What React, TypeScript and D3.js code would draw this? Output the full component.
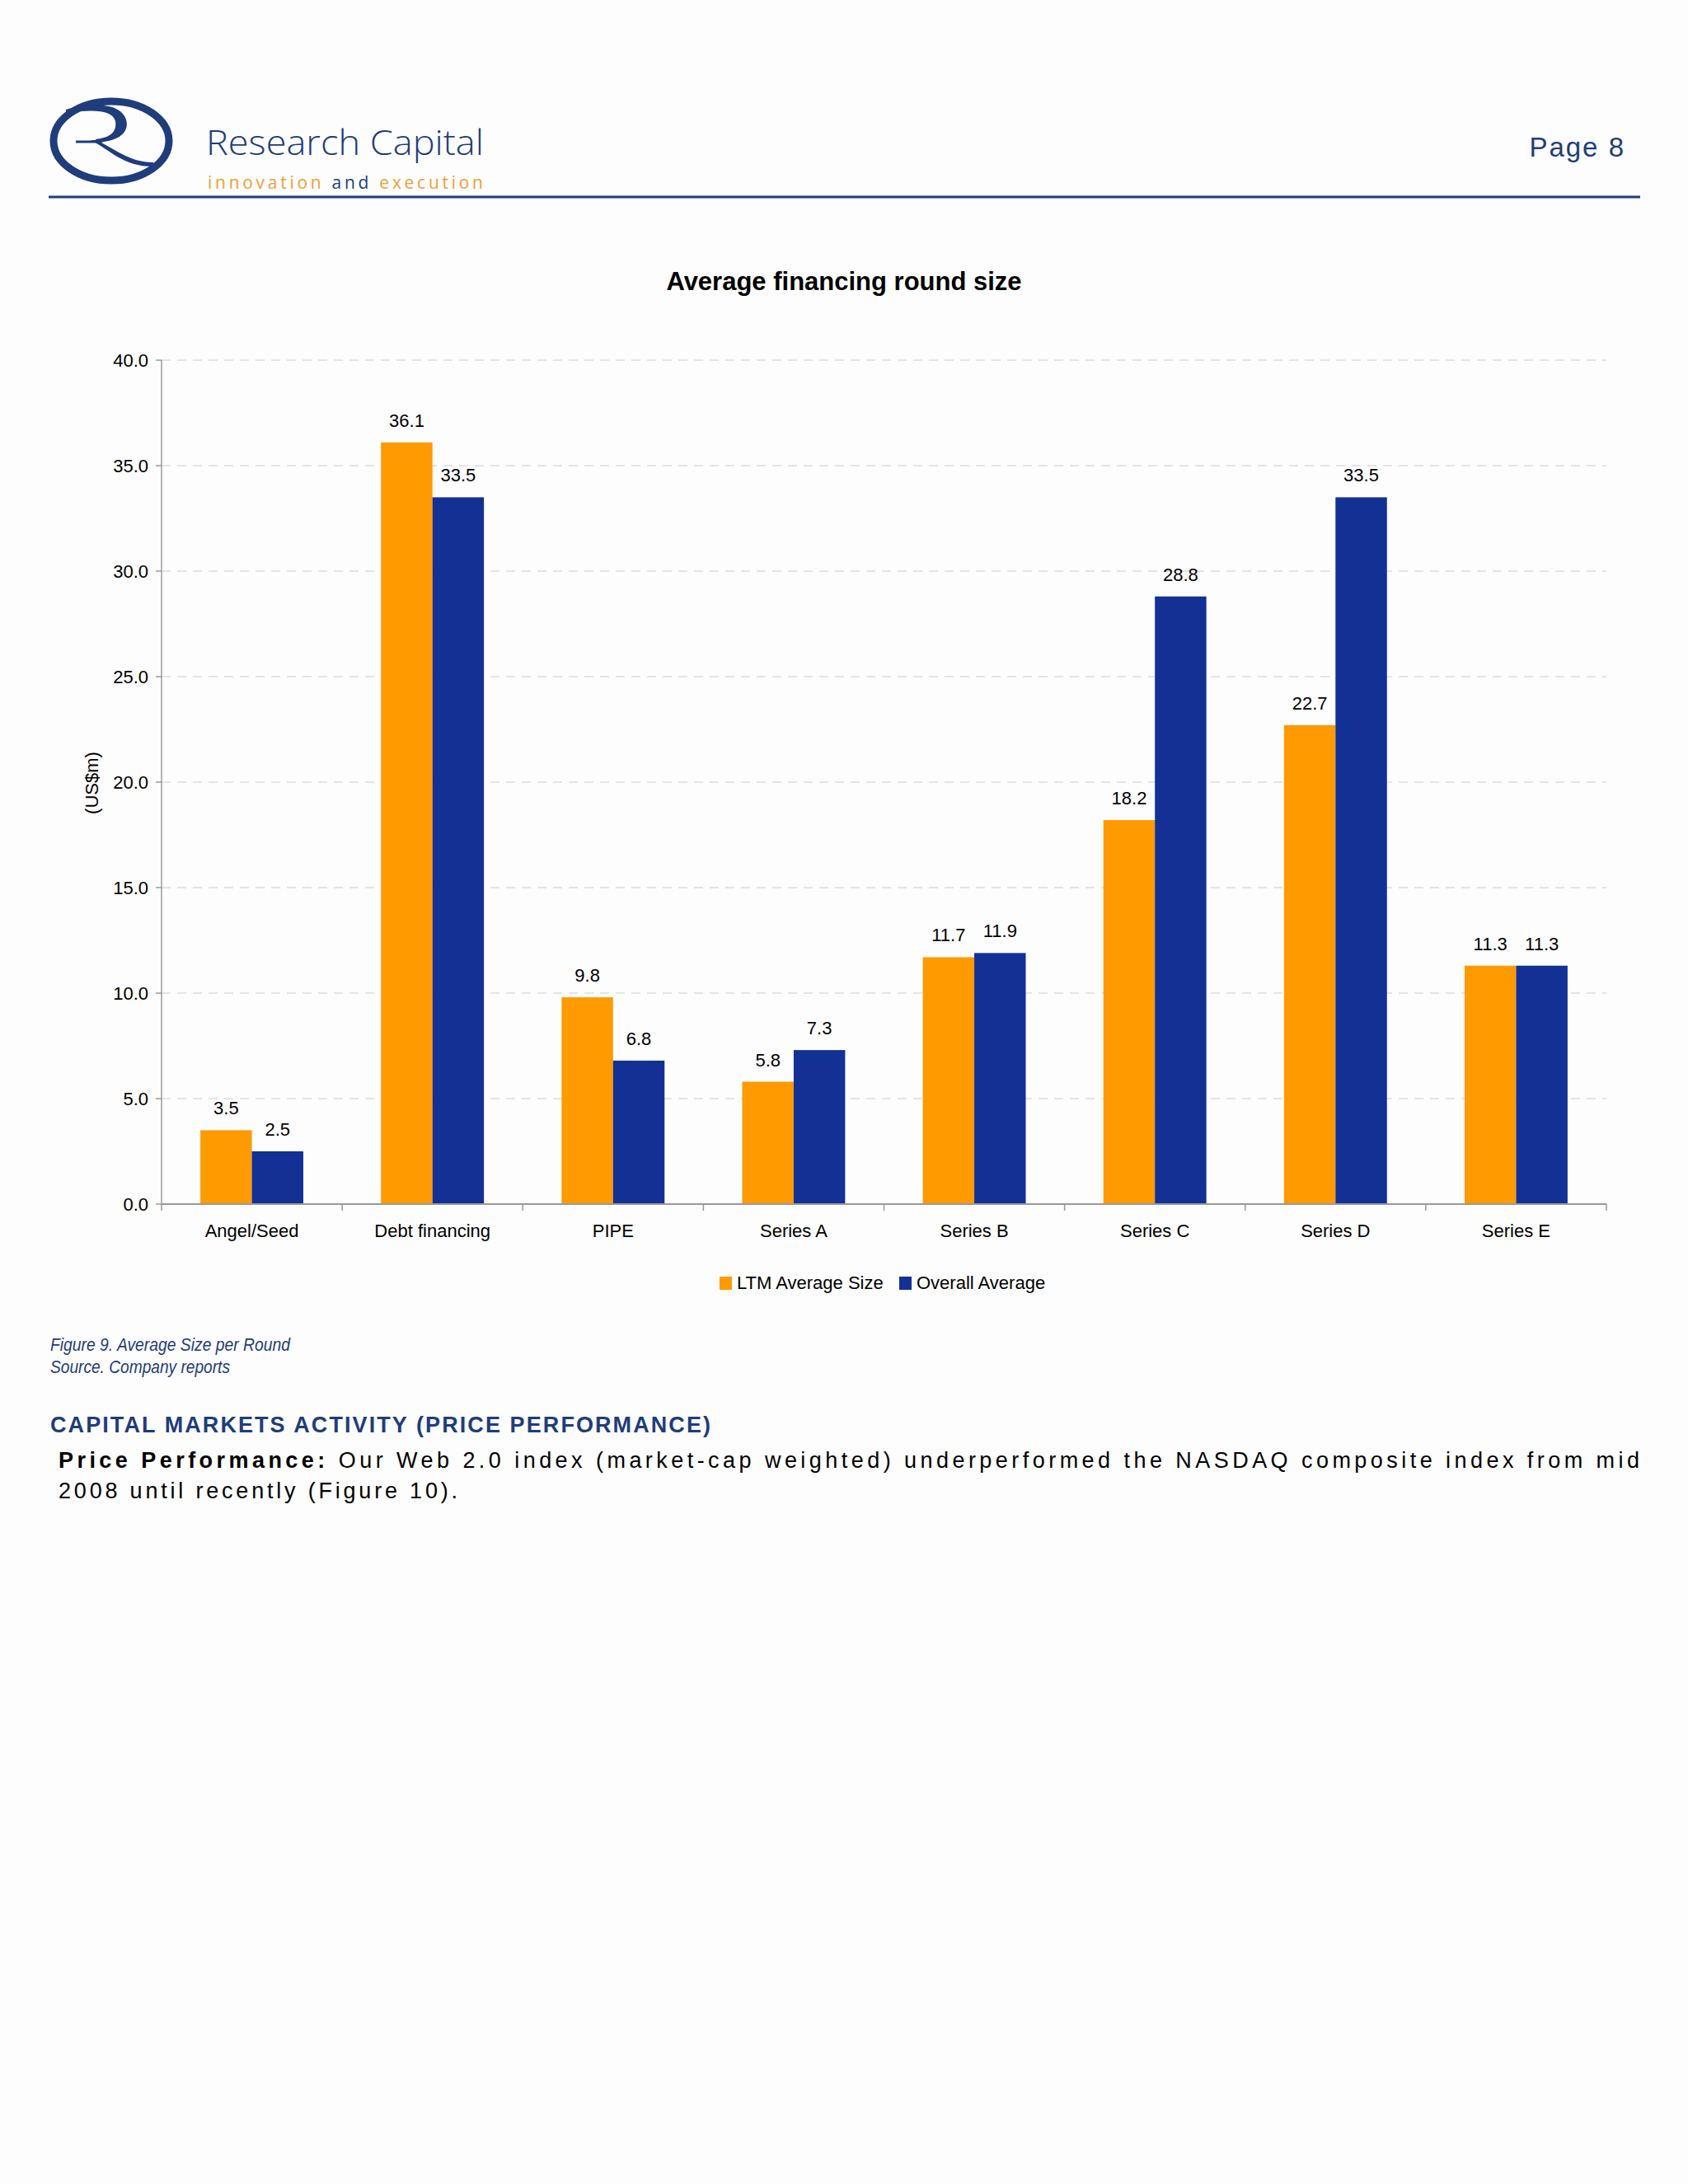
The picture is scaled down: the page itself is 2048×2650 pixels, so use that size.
import React from "react"
import * as d3 from "d3"

// chart data
const categories = ["Angel/Seed", "Debt financing", "PIPE", "Series A", "Series B", "Series C", "Series D", "Series E"]
const ltmAverage = [3.5, 36.1, 9.8, 5.8, 11.7, 18.2, 22.7, 11.3]
const overallAverage = [2.5, 33.5, 6.8, 7.3, 11.9, 28.8, 33.5, 11.3]
const seriesNames = ["LTM Average Size", "Overall Average"]
const seriesColors = ["#FF9A00", "#133094"]
const yTicks = [0, 5, 10, 15, 20, 25, 30, 35, 40]

const NAVY = "#1f3d7a"
const ORANGE = "#EFA035"
const SANS = "'Liberation Sans', Arial, Helvetica, sans-serif"
const NARROW = "'Liberation Sans Narrow', 'Liberation Sans', Arial, sans-serif"

export default function App() {
  const W = 2048
  const H = 2650
  const plot = { left: 196, right: 1949, top: 437, bottom: 1461 }

  const x0 = d3.scaleBand<string>().domain(categories).range([plot.left, plot.right]).padding(0)
  const bw = x0.bandwidth()
  const x1 = d3.scaleBand<number>().domain([0, 1]).range([bw * 0.215, bw * 0.785]).padding(0)
  const y = d3.scaleLinear().domain([0, 40]).range([plot.bottom, plot.top])

  const series = [ltmAverage, overallAverage]

  return (
    <svg
      width={W}
      height={H}
      style={{ position: "absolute", left: 0, top: 0, background: "#fdfdfd" }}
      fontFamily={SANS}
    >
      {/* header logo */}
      <g>
        <ellipse cx={135} cy={171} rx={70} ry={48} fill="none" stroke={NAVY} strokeWidth={9} />
        {/* R bowl, drawn as a filled crescent so it is thick on the right */}
        <path
          d="M80,133 C105,126 145,122 153,145 C158,163 140,172 116,173 L116,169 C134,167 142,160 140,147 C136,132 110,133 80,137 Z"
          fill={NAVY}
        />
        <path d="M92,172 L124,172" fill="none" stroke={NAVY} strokeWidth={3} />
        <path d="M110,170 C134,182 150,203 188,202 L186,197 C156,197 140,180 116,170 Z" fill={NAVY} />
        <text x={250} y={188} fontFamily="'Open Sans', sans-serif" fontWeight={300} fontSize={42} fill={NAVY} textLength={337} lengthAdjust="spacingAndGlyphs">
          Research Capital
        </text>
        <text x={252} y={229} fontFamily="'Open Sans', sans-serif" fontSize={21} fill={ORANGE} textLength={334} lengthAdjust="spacing">
          innovation <tspan fill={NAVY}>and</tspan> execution
        </text>
      </g>
      <text x={1972} y={190} textAnchor="end" fontFamily={NARROW} fontSize={33} fill={NAVY} letterSpacing={2}>
        Page 8
      </text>
      <line x1={59} x2={1990} y1={239} y2={239} stroke={NAVY} strokeWidth={3} />

      {/* title */}
      <text x={1024} y={352} textAnchor="middle" fontWeight="bold" fontSize={31} fill="#000">
        Average financing round size
      </text>

      {/* gridlines */}
      {yTicks.filter((t) => t > 0).map((t) => (
        <line key={t} x1={plot.left} x2={plot.right} y1={y(t)} y2={y(t)} stroke="#dcdcdc" strokeWidth={1.5} strokeDasharray="11,8" />
      ))}

      {/* bars */}
      {categories.map((c, i) => (
        <g key={c} transform={`translate(${x0(c)},0)`}>
          {series.map((s, k) => (
            <rect key={k} x={x1(k)} y={y(s[i])} width={x1.bandwidth()} height={plot.bottom - y(s[i])} fill={seriesColors[k]} />
          ))}
          {series.map((s, k) => (
            <text key={"l" + k} x={(x1(k) as number) + x1.bandwidth() / 2} y={y(s[i]) - 19} textAnchor="middle" fontSize={22} fill="#000">
              {s[i].toFixed(1)}
            </text>
          ))}
        </g>
      ))}

      {/* y axis */}
      <line x1={plot.left} x2={plot.left} y1={plot.top} y2={plot.bottom} stroke="#9a9a9a" strokeWidth={1.5} />
      {yTicks.map((t) => (
        <g key={t}>
          <line x1={plot.left - 7} x2={plot.left} y1={y(t)} y2={y(t)} stroke="#9a9a9a" strokeWidth={1.5} />
          <text x={plot.left - 16} y={y(t) + 8} textAnchor="end" fontSize={22} fill="#000">
            {t.toFixed(1)}
          </text>
        </g>
      ))}
      <text transform={`translate(119,950) rotate(-90)`} textAnchor="middle" fontSize={22} fill="#000">
        (US$m)
      </text>

      {/* x axis */}
      <line x1={plot.left} x2={plot.right} y1={plot.bottom} y2={plot.bottom} stroke="#9a9a9a" strokeWidth={2} />
      {categories.concat(["end"]).map((c, i) => {
        const xx = plot.left + i * bw
        return <line key={c} x1={xx} x2={xx} y1={plot.bottom} y2={plot.bottom + 8} stroke="#9a9a9a" strokeWidth={1.5} />
      })}
      {categories.map((c) => (
        <text key={c} x={(x0(c) as number) + bw / 2} y={1501} textAnchor="middle" fontSize={22} fill="#000">
          {c}
        </text>
      ))}

      {/* legend */}
      <g>
        <rect x={873} y={1549} width={15} height={16} fill={seriesColors[0]} />
        <text x={894} y={1564} fontSize={22} fill="#000">{seriesNames[0]}</text>
        <rect x={1091} y={1549} width={15} height={16} fill={seriesColors[1]} />
        <text x={1112} y={1564} fontSize={22} fill="#000">{seriesNames[1]}</text>
      </g>

      {/* captions */}
      <text x={61} y={1639} fontFamily={NARROW} fontStyle="italic" fontSize={22} fill={NAVY} textLength={291} lengthAdjust="spacingAndGlyphs">
        Figure 9. Average Size per Round
      </text>
      <text x={61} y={1666} fontFamily={NARROW} fontStyle="italic" fontSize={22} fill={NAVY} textLength={218} lengthAdjust="spacingAndGlyphs">
        Source. Company reports
      </text>

      <text x={61} y={1738} fontFamily={NARROW} fontWeight="bold" fontSize={27} fill={NAVY} textLength={801} lengthAdjust="spacing">
        CAPITAL MARKETS ACTIVITY (PRICE PERFORMANCE)
      </text>

      <text x={71} y={1781} fontSize={27} fill="#000" textLength={1918} lengthAdjust="spacing">
        <tspan fontWeight="bold">Price Performance:</tspan> Our Web 2.0 index (market-cap weighted) underperformed the NASDAQ composite index from mid
      </text>
      <text x={71} y={1818} fontSize={27} fill="#000" textLength={484} lengthAdjust="spacing">
        2008 until recently (Figure 10).
      </text>
    </svg>
  )
}
